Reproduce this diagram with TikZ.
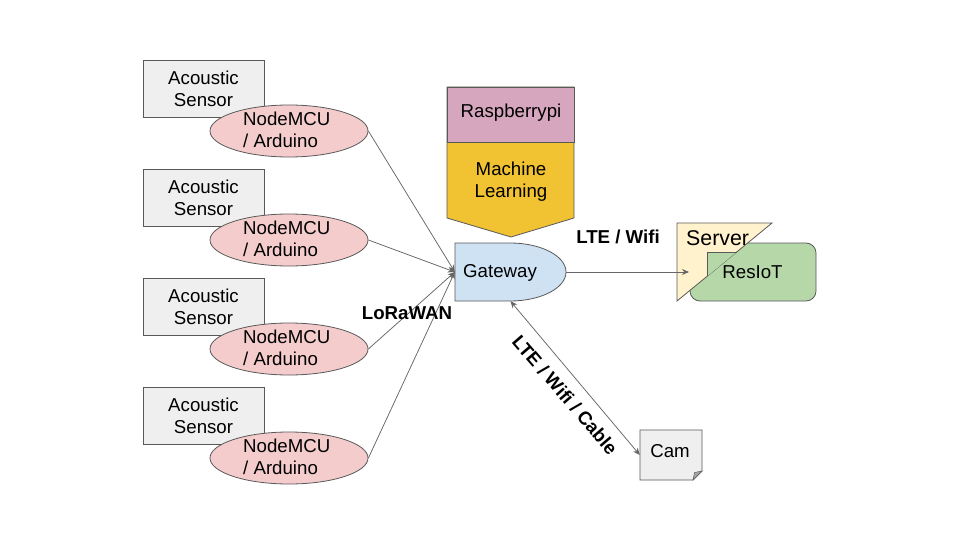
\documentclass[tikz,border=0pt]{standalone}
\usepackage{fontspec}
\setmainfont{Liberation Sans}
\usetikzlibrary{arrows.meta,shapes.geometric}
\definecolor{boxgray}{HTML}{EFEFEF}
\definecolor{pinkfill}{HTML}{F4CCCC}
\definecolor{gwblue}{HTML}{CFE2F3}
\definecolor{rpfill}{HTML}{D5A6BD}
\definecolor{mlfill}{HTML}{F1C232}
\definecolor{srvfill}{HTML}{FFF2CC}
\definecolor{resfill}{HTML}{B6D7A8}
\definecolor{edgec}{HTML}{595959}
\definecolor{arrc}{HTML}{666666}
\definecolor{foldc}{HTML}{A6A6A6}
\begin{document}
\begin{tikzpicture}[x=1pt,y=-1pt,
  txt/.style={font=\fontsize{18.67}{22}\selectfont, align=center, inner sep=0pt},
  sensorbox/.style={draw=edgec, fill=boxgray, line width=0.8pt, minimum width=121pt, minimum height=57pt, inner sep=0pt, txt},
  mcu/.style={ellipse, draw=edgec, fill=pinkfill, line width=0.8pt, minimum width=158pt, minimum height=52pt, inner sep=0pt},
  shapeline/.style={draw=edgec, line width=0.8pt},
  link/.style={draw=arrc, line width=0.75pt, -{Stealth[length=7pt,width=6pt]}},
  lbl/.style={font=\bfseries\fontsize{18.67}{22}\selectfont, inner sep=0pt}
]
\fill[white] (0,0) rectangle (960,540);
\useasboundingbox (0,0) rectangle (960,540);

% sensors and MCUs
\foreach \i/\y in {1/0,2/109,3/218,4/327}{
  \node[sensorbox] (s\i) at (203.5,88.5+\y) {Acoustic\\Sensor};
  \node[mcu] (e\i) at (289,131+\y) {};
  \node[txt, align=left, anchor=west] (t\i) at (243,130+\y) {NodeMCU\\/ Arduino};
}

% Raspberrypi / Machine Learning pentagon
\path[shapeline, fill=mlfill] (447,87) -- (574,87) -- (574,218) -- (511,237) -- (447,218) -- cycle;
\path[shapeline, fill=rpfill] (447,87) rectangle (574,142);
\node[txt] (rp) at (511,113) {Raspberrypi};
\node[txt] (ml) at (511,181.5) {Machine\\Learning};

% Gateway
\path[shapeline, fill=gwblue] (455,243) -- (510,243) .. controls (541,243) and (566,256) .. (566,272)
  .. controls (566,288) and (541,301) .. (510,301) -- (455,301) -- cycle;
\node[minimum width=111pt, minimum height=58pt, inner sep=0pt] (gw) at (510.5,272) {};
\node[txt] (gwt) at (500,273) {Gateway};

% Server / ResIoT
\path[shapeline, fill=resfill, rounded corners=10pt] (690,243) rectangle (816,301);
\path[shapeline, fill=srvfill] (677,223) -- (772,223) -- (677,301) -- cycle;
\fill[resfill] (707,276.4) -- (707,252) -- (736.7,252) -- cycle;
\draw[edgec, line width=0.8pt] (707,276.4) -- (707,252) -- (736.7,252);
\node[font=\fontsize{21.33}{25}\selectfont, anchor=west, inner sep=0pt] (srv) at (686,238) {Server};
\node[txt] (res) at (752.5,272) {ResIoT};
\coordinate (srvin) at (689,272);

% Cam
\path[shapeline, fill=boxgray] (640,430) -- (702,430) -- (702,471) -- (693,480) -- (640,480) -- cycle;
\path[draw=edgec, fill=foldc, line width=0.5pt] (693,480) -- (694.5,472.5) -- (702,471) -- cycle;
\node[minimum width=62pt, minimum height=50pt, inner sep=0pt] (cam) at (671,455) {};
\node[txt] (camt) at (670,451) {Cam};

% connectors
\foreach \i in {1,2,3,4}{
  \draw[link] (e\i.east) -- (gw.west);
}
\draw[link] (gw.east) -- (srvin);
\draw[draw=arrc, line width=0.75pt, {Stealth[length=7pt,width=6pt]}-{Stealth[length=7pt,width=6pt]}] (gw.south) -- (cam.west);

% labels
\node[lbl] (l1) at (618,237) {LTE / Wifi};
\node[lbl] (l2) at (407,313) {LoRaWAN};
\node[lbl, rotate=-49.2] (l3) at (565,395) {LTE / Wifi / Cable};
\end{tikzpicture}
\end{document}
